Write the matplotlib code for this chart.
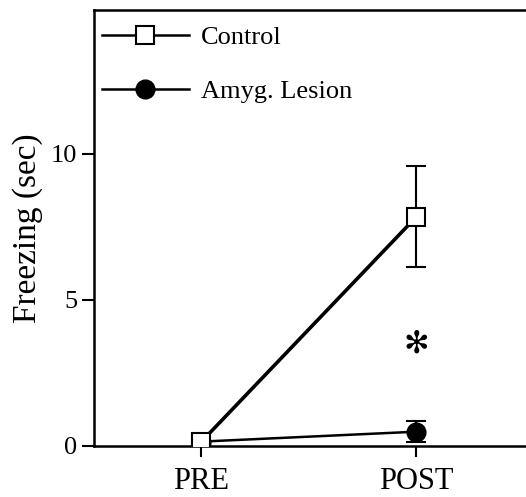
import matplotlib
matplotlib.use("Agg")
import matplotlib.pyplot as plt
from matplotlib.lines import Line2D

conditions = ["PRE", "POST"]
control_mean = [0.15, 7.85]
control_sem = [0.05, 1.73]
lesion_mean = [0.15, 0.49]
lesion_sem = [0.05, 0.37]
yticks = [0, 5, 10]
star_y = 3.5

plt.rcParams['font.family'] = ['Liberation Serif', 'DejaVu Serif']

fig = plt.figure(figsize=(5.26, 4.97), dpi=100)
ax = fig.add_axes([94/526, 1-446/497, 1-94/526, (446-10)/497])

x = [1, 2]
# lesion
ax.errorbar(x, lesion_mean, yerr=lesion_sem, fmt='none', ecolor='black',
            elinewidth=1.5, capsize=7.5, capthick=1.5, zorder=2)
ax.plot(x, lesion_mean, '-', color='black', lw=1.8, marker='o',
        ms=13.5, mfc='black', mec='black', zorder=3)
# control
ax.errorbar(x, control_mean, yerr=control_sem, fmt='none', ecolor='black',
            elinewidth=1.5, capsize=7.5, capthick=1.5, zorder=4)
ax.plot(x, control_mean, '-', color='black', lw=2.6, marker='s',
        ms=13.5, mfc='white', mec='black', mew=1.5, zorder=5)

ax.text(2, star_y, '✻', ha='center', va='center', fontsize=22,
        family=['DejaVu Sans'], zorder=6)

ax.set_xlim(0.5, 2.51)
ax.set_ylim(0, 14.93)
ax.set_xticks(x)
ax.set_xticklabels(conditions, fontsize=22)
ax.set_yticks(yticks)
ax.set_yticklabels([str(t) for t in yticks], fontsize=19)
ax.tick_params(axis='y', direction='out', length=9, width=1.5, pad=3)
ax.tick_params(axis='x', direction='out', length=8, width=1.5, pad=7)
ax.set_ylabel('Freezing (sec)', fontsize=24, labelpad=6)

for s in ['left', 'bottom', 'top']:
    ax.spines[s].set_linewidth(1.8)
ax.spines['right'].set_visible(False)

h_con = Line2D([], [], color='black', lw=1.8, marker='s', ms=13.5,
               mfc='white', mec='black', mew=1.5)
h_les = Line2D([], [], color='black', lw=1.8, marker='o', ms=13.5,
               mfc='black', mec='black')
leg = ax.legend(handles=[h_con, h_les], labels=['Control', 'Amyg. Lesion'],
                loc='upper left', frameon=False,
                fontsize=19, handlelength=3.3, handletextpad=0.45,
                labelspacing=1.15, borderpad=0.3, borderaxespad=0.3,
                bbox_to_anchor=(-0.019, 1.0))

fig.savefig('out.png', dpi=100)
